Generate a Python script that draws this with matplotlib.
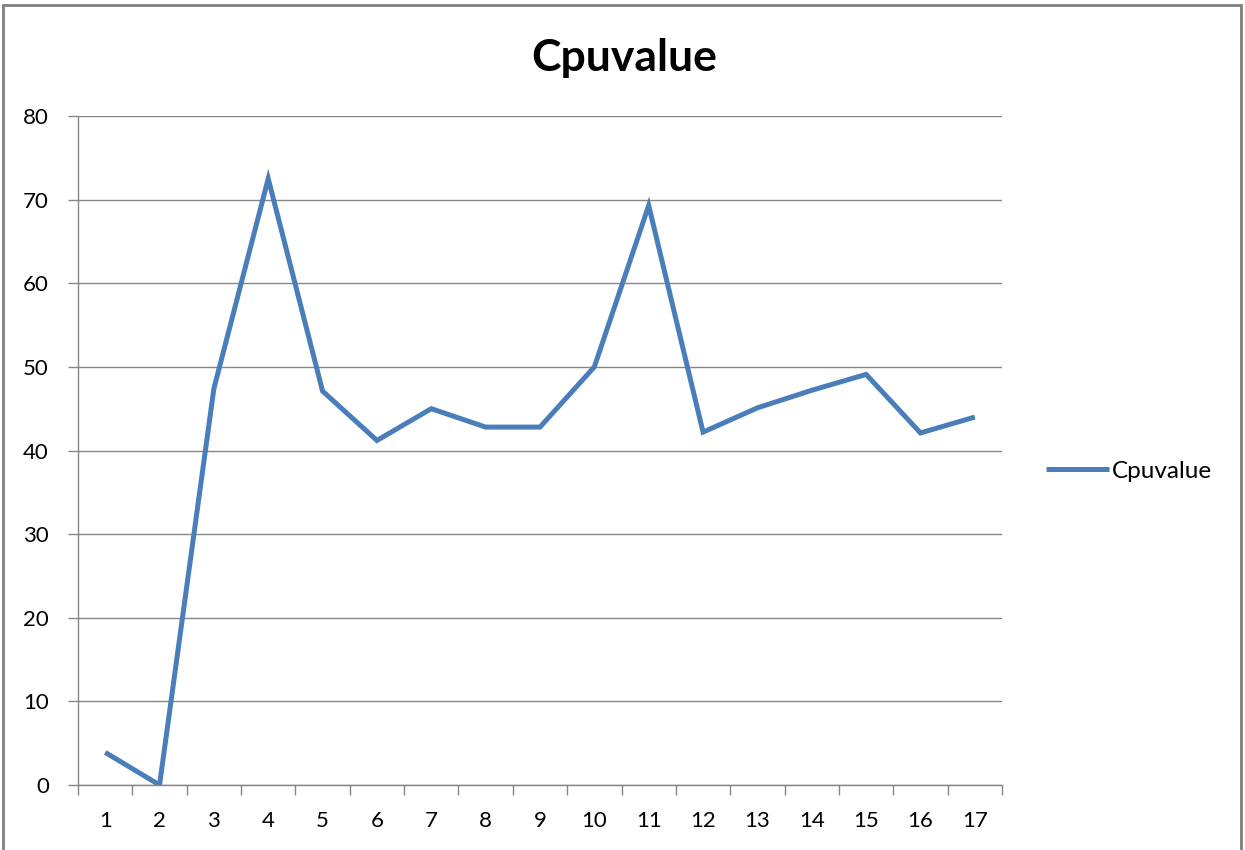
import matplotlib
matplotlib.use('Agg')
import matplotlib.pyplot as plt
from matplotlib.patches import Rectangle
import numpy as np

# CPU readings per sample
samples = list(range(1, 18))
cpu_values = [3.9, 0, 47.4, 72.5, 47.1, 41.2, 45.0, 42.8, 42.8, 50.0,
              69.3, 42.2, 45.1, 47.2, 49.1, 42.1, 44.0]
y_ticks = [0, 10, 20, 30, 40, 50, 60, 70, 80]

plt.rcParams['font.family'] = ['Lato', 'DejaVu Sans']
grid_col = '#868686'
line_col = '#4a7ebb'

fig = plt.figure(figsize=(12.45, 8.5), dpi=100)
ax = fig.add_axes([78/1245, 1 - 785/850, (1002-78)/1245, (785-116)/850])

ax.plot(samples, cpu_values, color=line_col, linewidth=3.6, label='Cpuvalue',
        solid_joinstyle='miter', solid_capstyle='butt')

ax.set_xlim(0.5, 17.5)
ax.set_ylim(0, 80)
ax.set_yticks(y_ticks)
ax.set_xticks(samples)
ax.set_xticks(np.arange(0.5, 18, 1), minor=True)
ax.tick_params(axis='x', which='major', length=0, labelsize=16, pad=19)
ax.tick_params(axis='x', which='minor', length=7, color=grid_col, width=1)
ax.tick_params(axis='y', length=7, color=grid_col, width=1, labelsize=16, pad=14)

ax.yaxis.grid(True, color=grid_col, linewidth=1)
ax.set_axisbelow(True)
for s in ['top', 'right']:
    ax.spines[s].set_visible(False)
for s in ['left', 'bottom']:
    ax.spines[s].set_color(grid_col)
    ax.spines[s].set_linewidth(1)

fig.text(624/1245, 1 - 58/850, 'Cpuvalue', ha='center', va='center',
         fontsize=32, fontweight='bold')

fig.legend(loc='center left', bbox_to_anchor=(1024/1245, 1 - 471/850),
           frameon=False, fontsize=17.5, handlelength=2.6, handletextpad=0.1)

# chart frame
fig.patches.append(Rectangle((3/1245, -0.05), 1238/1245, 1.05 - 5/850,
                             transform=fig.transFigure, fill=False,
                             edgecolor='#7f7f7f', linewidth=2))

fig.savefig('out.png', dpi=100)
